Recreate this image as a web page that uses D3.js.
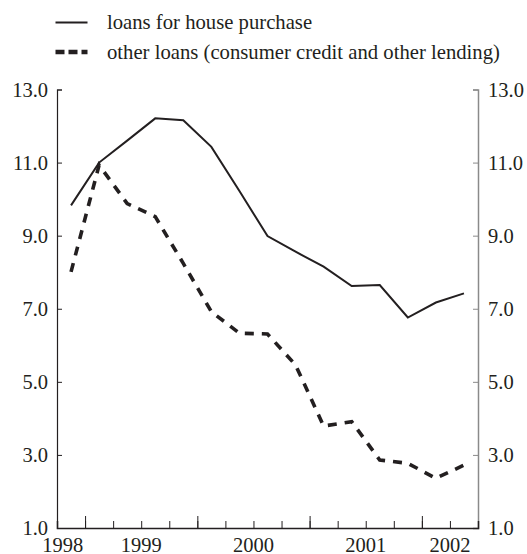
<html>
<head>
    <meta charset="utf-8">
    <script src="https://d3js.org/d3.v7.min.js"></script>
    <style>
        body { margin: 0; background: #fff; }
    </style>
</head>
<body>
<div id="my_dataviz"></div>
<script>

    // quarterly observations, 1998 Q4 to 2002 Q2
    var quarters = ["1998Q4", "1999Q1", "1999Q2", "1999Q3", "1999Q4",
        "2000Q1", "2000Q2", "2000Q3", "2000Q4",
        "2001Q1", "2001Q2", "2001Q3", "2001Q4",
        "2002Q1", "2002Q2"];
    var housePurchase = [9.83, 11.0, 11.6, 12.21, 12.16, 11.43, 10.22, 8.99, 8.56, 8.15, 7.62, 7.65, 6.76, 7.17, 7.42];
    var otherLoans = [8.01, 10.93, 9.88, 9.52, 8.24, 6.92, 6.33, 6.31, 5.46, 3.79, 3.91, 2.86, 2.77, 2.36, 2.72];

    // tick labels
    var yTicks = [1, 3, 5, 7, 9, 11, 13];
    var years = ["1998", "1999", "2000", "2001", "2002"];
    var yearCentre = [0.2, 3, 7, 11, 14];   // in quarters from the start of 1998 Q4
    var yearStarts = [1, 5, 9, 13];
    var legendLabels = ["loans for house purchase", "other loans (consumer credit and other lending)"];

    var FONT = "'Liberation Serif', 'Times New Roman', Times, 'DejaVu Serif', serif";

    var W = 527, H = 554;
    var margin = { top: 89.5, right: 49, bottom: 26, left: 57 };
    var width = W - margin.left - margin.right,
        height = H - margin.top - margin.bottom;

    var svg = d3.select("#my_dataviz")
        .append("svg")
        .attr("width", W)
        .attr("height", H)
        .append("g")
        .attr("transform", "translate(" + margin.left + "," + margin.top + ")");

    var x = d3.scaleLinear().domain([0, quarters.length]).range([0, width]);
    var y = d3.scaleLinear().domain([1, 13]).range([height, 0]);

    function styleText(sel, size) {
        sel.style("font-family", FONT).style("font-size", (size || 20.5) + "px").style("fill", "#231f20");
    }

    // left axis, ticks inside
    var left = svg.append("g")
        .call(d3.axisLeft(y).tickValues(yTicks).tickSize(-5).tickPadding(9).tickFormat(d3.format(".1f")));
    left.select(".domain").attr("stroke", "#231f20").attr("stroke-width", 1.2);
    left.selectAll(".tick line").attr("stroke", "#231f20");
    left.selectAll("text").call(styleText);

    // right axis, grey, ticks inside
    var right = svg.append("g")
        .attr("transform", "translate(" + width + ",0)")
        .call(d3.axisRight(y).tickValues(yTicks).tickSize(-5).tickPadding(10).tickFormat(d3.format(".1f")));
    right.select(".domain").attr("stroke", "#8a8a8a").attr("stroke-width", 1.5);
    right.selectAll(".tick line").attr("stroke", "#8a8a8a");
    right.selectAll("text").call(styleText);

    // bottom axis: quarter ticks (short) and year ticks (long), pointing up
    var bottom = svg.append("g").attr("transform", "translate(0," + height + ")");
    bottom.append("g")
        .call(d3.axisBottom(x).tickValues(d3.range(1, quarters.length)).tickSize(-7).tickFormat(""))
        .call(function (g) { g.select(".domain").attr("stroke", "#231f20").attr("stroke-width", 1.5); })
        .selectAll(".tick line").attr("stroke", "#231f20");
    bottom.append("g")
        .call(d3.axisBottom(x).tickValues(yearStarts).tickSize(-12).tickFormat(""))
        .call(function (g) { g.select(".domain").remove(); })
        .selectAll(".tick line").attr("stroke", "#231f20");
    bottom.selectAll(".yearLabel")
        .data(years)
        .enter()
        .append("text")
        .attr("x", function (d, i) { return x(yearCentre[i]); })
        .attr("y", 23.5)
        .attr("text-anchor", "middle")
        .call(styleText)
        .text(function (d) { return d; });

    // lines
    var line = d3.line()
        .x(function (d, i) { return x(i + 0.5); })
        .y(function (d) { return y(d); });

    svg.append("path")
        .datum(housePurchase)
        .attr("fill", "none")
        .attr("stroke", "#231f20")
        .attr("stroke-width", 2)
        .attr("d", line);

    svg.append("path")
        .datum(otherLoans)
        .attr("fill", "none")
        .attr("stroke", "#231f20")
        .attr("stroke-width", 3.6)
        .attr("stroke-dasharray", "9,8")
        .attr("d", line);

    // legend
    var legend = d3.select("svg").append("g");
    var styles = [{ w: 2.2, dash: null, y: 22.5 }, { w: 4.5, dash: "9,4", y: 52 }];
    legend.selectAll("line")
        .data(styles)
        .enter()
        .append("line")
        .attr("x1", 55.5).attr("x2", 87.5)
        .attr("y1", function (d) { return d.y; })
        .attr("y2", function (d) { return d.y; })
        .attr("stroke", "#231f20")
        .attr("stroke-width", function (d) { return d.w; })
        .attr("stroke-dasharray", function (d) { return d.dash; });
    legend.selectAll("text")
        .data(legendLabels)
        .enter()
        .append("text")
        .attr("x", 107)
        .attr("y", function (d, i) { return styles[i].y + 6.7; })
        .call(styleText, 20.7)
        .text(function (d) { return d; });

</script>
</body>
</html>
